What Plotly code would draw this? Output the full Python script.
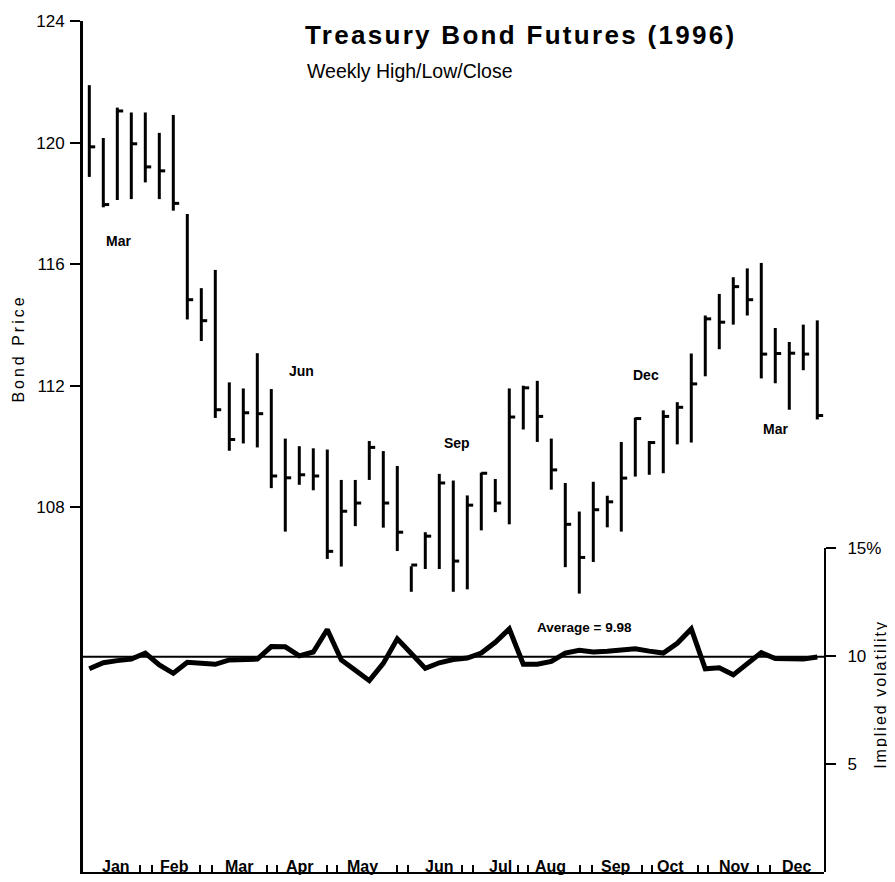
import plotly.graph_objects as go

# ---------------- data ----------------
weeks = list(range(1, 54))

high = [121.89, 120.15, 121.15, 120.99, 120.99, 120.32, 120.91, 117.65, 115.21, 115.81,
        112.11, 111.91, 113.07, 111.89, 110.26, 110.01, 109.94, 109.90, 108.90, 108.90,
        110.18, 109.85, 109.36, 106.06, 107.18, 109.10, 108.88, 108.39, 109.14, 108.93,
        111.91, 112.00, 112.16, 110.26, 108.80, 107.86, 108.84, 108.38, 110.15, 110.95,
        110.18, 111.19, 111.46, 113.06, 114.31, 115.02, 115.57, 115.86, 116.04, 113.90,
        113.44, 114.01, 114.15]

low = [118.87, 117.87, 118.11, 118.14, 118.69, 118.14, 117.76, 114.18, 113.47, 110.94,
       109.86, 110.10, 109.97, 108.63, 107.20, 108.74, 108.56, 106.30, 106.05, 107.38,
       108.90, 107.33, 106.56, 105.22, 105.97, 105.97, 105.22, 105.30, 107.24, 107.84,
       107.44, 110.56, 110.15, 108.58, 106.03, 105.16, 106.20, 107.34, 107.20, 109.01,
       109.07, 109.12, 110.07, 110.13, 112.31, 113.20, 114.01, 114.31, 112.24, 112.08,
       111.21, 112.51, 110.89]

close = [119.86, 117.96, 121.04, 119.96, 119.20, 119.07, 118.00, 114.83, 114.14, 111.21,
         110.23, 111.11, 111.08, 109.03, 108.97, 109.07, 109.03, 106.55, 107.87, 108.14,
         109.97, 108.14, 107.18, 106.10, 107.05, 108.80, 106.23, 108.07, 109.12, 108.14,
         110.97, 111.93, 110.99, 109.23, 107.44, 106.35, 107.92, 108.18, 108.96, 110.92,
         110.13, 110.99, 111.29, 112.06, 114.20, 114.09, 115.26, 114.83, 113.04, 113.06,
         113.07, 113.04, 111.02]

implied_vol = [9.42, 9.70, 9.80, 9.87, 10.15, 9.60, 9.21, 9.72, 9.68, 9.63,
               9.83, 9.85, 9.87, 10.45, 10.44, 10.02, 10.20, 11.24, 9.83, 9.35,
               8.87, 9.67, 10.81, 10.13, 9.44, 9.70, 9.85, 9.92, 10.15, 10.65,
               11.27, 9.63, 9.63, 9.76, 10.15, 10.28, 10.20, 10.23, 10.29, 10.35,
               10.24, 10.15, 10.60, 11.27, 9.42, 9.47, 9.14, 9.65, 10.17, 9.90,
               9.87, 9.87, 9.97]

vol_average = 9.98

month_labels = ["Jan", "Feb", "Mar", "Apr", "May", "Jun",
                "Jul", "Aug", "Sep", "Oct", "Nov", "Dec"]
contract_labels = ["Mar", "Jun", "Sep", "Dec", "Mar"]
price_ticks = [108, 112, 116, 120, 124]
vol_ticks = [5, 10, 15]
vol_tick_labels = ["5", "10", "15%"]

# ---------------- positions (layout) ----------------
month_pos = [2.91, 7.05, 11.69, 16.05, 20.48, 25.98, 30.34, 33.91, 38.62, 42.48, 47.05, 51.54]
week_tick_pos = [4.62, 5.48, 8.91, 9.76, 13.69, 14.41, 17.98, 18.69, 22.98, 23.76,
                 27.62, 28.41, 31.62, 32.34, 36.05, 36.91, 40.48, 41.19, 44.48, 45.19,
                 48.77, 49.62]
contract_x = [3.12, 16.18, 27.26, 40.76, 49.98]
contract_y = [116.76, 112.49, 110.12, 112.36, 110.57]

FONT = "Liberation Sans, Arial, Helvetica, sans-serif"
BLACK = "#000000"
CLEAR = "rgba(0,0,0,0)"
close_tick = 0.42  # week units

# high-low bars
bar_x, bar_y = [], []
for w, h, l in zip(weeks, high, low):
    bar_x += [w, w, None]
    bar_y += [l, h, None]

# close ticks
ct_x, ct_y = [], []
for w, c in zip(weeks, close):
    ct_x += [w, w + close_tick, None]
    ct_y += [c, c, None]

fig = go.Figure()
fig.add_trace(go.Scatter(x=bar_x, y=bar_y, mode="lines",
                         line=dict(color=BLACK, width=3), yaxis="y",
                         hoverinfo="skip", showlegend=False))
fig.add_trace(go.Scatter(x=ct_x, y=ct_y, mode="lines",
                         line=dict(color=BLACK, width=3), yaxis="y",
                         hoverinfo="skip", showlegend=False))
fig.add_trace(go.Scatter(x=weeks, y=implied_vol, mode="lines",
                         line=dict(color=BLACK, width=5), yaxis="y2",
                         showlegend=False))

fig.add_shape(type="line", xref="paper", x0=0, x1=1, yref="y2",
              y0=vol_average, y1=vol_average, line=dict(color=BLACK, width=2))

annotations = [
    dict(text='<span style="letter-spacing:2.3px">Treasury Bond Futures (1996)</span>',
         xref="paper", yref="paper", x=0.2969, y=0.984, xanchor="left", yanchor="middle",
         showarrow=False, font=dict(family=FONT, size=26, color=BLACK, weight="bold")),
    dict(text="Weekly High/Low/Close",
         xref="paper", yref="paper", x=0.300, y=0.9415, xanchor="left", yanchor="middle",
         showarrow=False, font=dict(family=FONT, size=19.5, color=BLACK)),
    dict(text='<span style="letter-spacing:3px">Bond Price</span>',
         xref="paper", yref="paper", x=-0.0864, y=0.615, xanchor="center", yanchor="middle",
         textangle=-90, showarrow=False, font=dict(family=FONT, size=16, color=BLACK)),
    dict(text='<span style="letter-spacing:2px">Implied volatility</span>',
         xref="paper", yref="paper", x=1.0769, y=0.2093, xanchor="center", yanchor="middle",
         textangle=-90, showarrow=False, font=dict(family=FONT, size=16, color=BLACK)),
    dict(text=f"Average = {vol_average}",
         xref="x", yref="y2", x=36.37, y=11.35, xanchor="center", yanchor="middle",
         showarrow=False, font=dict(family=FONT, size=13.5, color=BLACK, weight="bold")),
]
for lab, cx, cy in zip(contract_labels, contract_x, contract_y):
    annotations.append(dict(text=lab, xref="x", yref="y", x=cx, y=cy,
                            xanchor="center", yanchor="middle", showarrow=False,
                            font=dict(family=FONT, size=14, color=BLACK, weight="bold")))
for lab, mx in zip(month_labels, month_pos):
    annotations.append(dict(text=lab, xref="x", yref="paper", x=mx, y=0,
                            xanchor="center", yanchor="bottom", yshift=-5,
                            showarrow=False,
                            font=dict(family=FONT, size=16, color=BLACK, weight="bold")))

# the page body adds an 8px offset, so the figure is 8px smaller on each axis
fig.update_layout(
    width=887, height=874,
    margin=dict(l=75, r=71, t=4, b=10),
    paper_bgcolor="white", plot_bgcolor=CLEAR,
    font=dict(family=FONT, color=BLACK),
    showlegend=False,
    annotations=annotations,
    xaxis=dict(range=[0.55, 53.48], anchor="y", showgrid=False, zeroline=False,
               showline=True, linewidth=2, linecolor=BLACK,
               tickmode="array", tickvals=week_tick_pos, showticklabels=False,
               ticks="inside", ticklen=7, tickwidth=1.5, tickcolor=BLACK),
    yaxis=dict(range=[96, 124], domain=[0, 1], anchor="x", showgrid=False, zeroline=False,
               showline=True, linewidth=3, linecolor=BLACK,
               tickmode="array", tickvals=price_ticks,
               ticks="outside", ticklen=10, tickwidth=2, tickcolor=BLACK,
               ticklabelstandoff=2,
               tickfont=dict(family=FONT, size=17, color=BLACK)),
    yaxis2=dict(range=[0, 15], domain=[0, 0.3802], anchor="x", side="right",
                showgrid=False, zeroline=False,
                showline=True, linewidth=2, linecolor=BLACK,
                tickmode="array", tickvals=vol_ticks, ticktext=vol_tick_labels,
                ticks="outside", ticklen=10, tickwidth=2, tickcolor=BLACK,
                ticklabelstandoff=8,
                tickfont=dict(family=FONT, size=17, color=BLACK)),
)

fig.write_html("out.html")
